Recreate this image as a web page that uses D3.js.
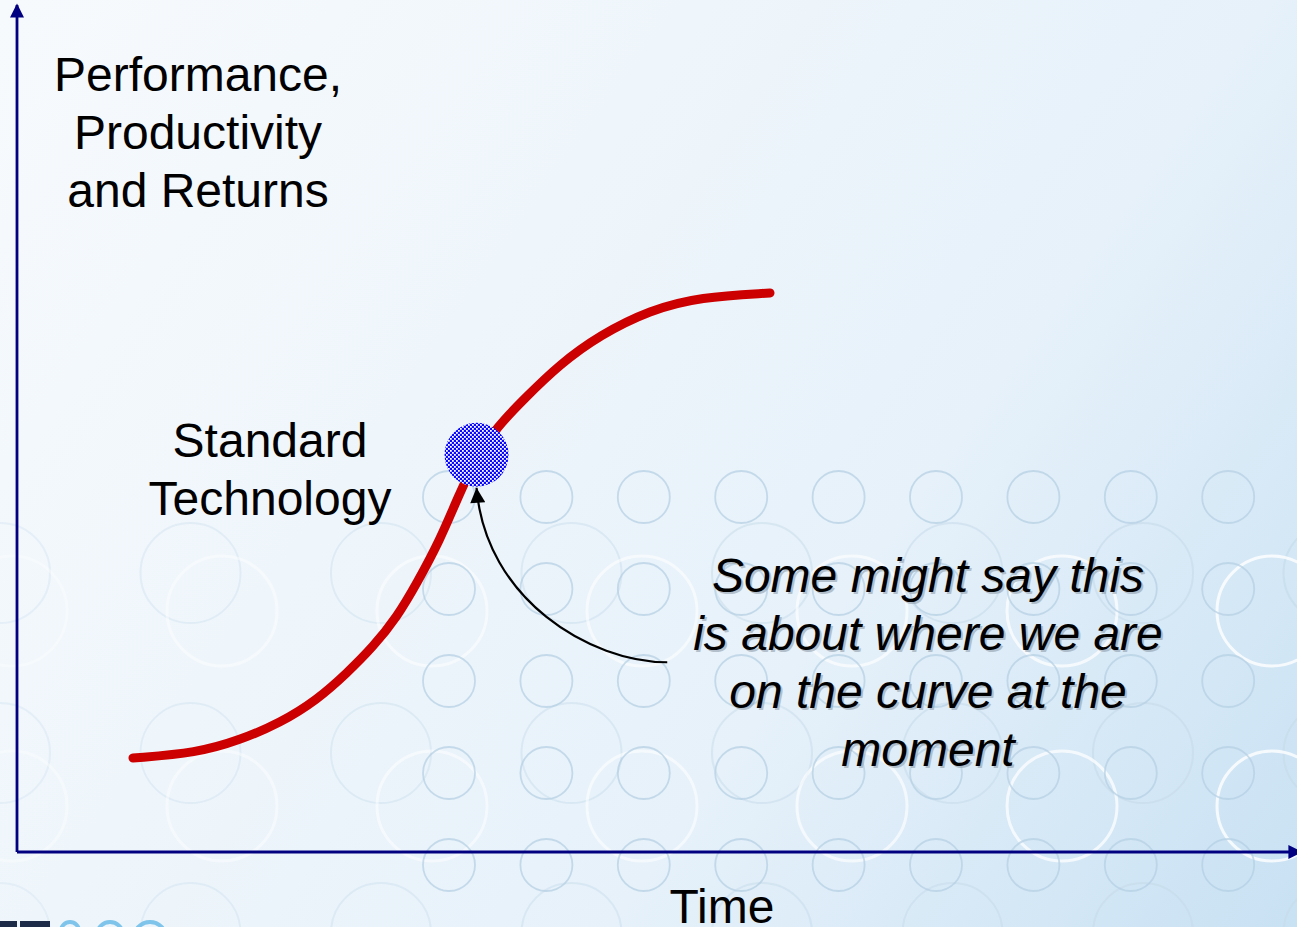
<!DOCTYPE html>
<html>
<head>
<meta charset="utf-8">
<script src="https://cdn.jsdelivr.net/npm/d3@7"></script>
<style>
  html, body { margin: 0; padding: 0; overflow: hidden; background: #f4f8fc; }
  svg { display: block; }
  text { font-family: "Liberation Sans", Arial, sans-serif; }
</style>
</head>
<body>
<script>
// ---------- DATA ----------
// S-curve (time, performance), both on a 0-100 scale
const curveTime = [9.06, 14.06, 17.42, 20.55, 23.44, 25.78, 27.81, 29.69, 31.25, 33.05, 34.45, 35.86, 37.50, 39.53, 42.42, 45.55, 49.45, 53.36, 58.83];
const curvePerf = [11.10, 11.69, 13.22, 15.23, 17.95, 21.13, 24.20, 27.74, 31.76, 36.84, 41.91, 46.52, 50.18, 53.36, 57.62, 61.04, 63.99, 65.53, 66.00];
// current position marker on the curve
const nowPoint = { time: 35.9, perf: 46.9 };
// annotation arrow (start, control 1, control 2) in data units; it ends at the marker
const arrowStart = { time: 50.8, perf: 22.4 };
const arrowCtrl1 = { time: 44.8, perf: 22.4 };
const arrowCtrl2 = { time: 36.6, perf: 29.8 };
// labels
const yAxisLabel = ["Performance,", "Productivity", "and Returns"];
const xAxisLabel = "Time";
const curveLabel = ["Standard", "Technology"];
const noteLines = ["Some might say this", "is about where we are", "on the curve at the", "moment"];

// ---------- SETUP ----------
const W = 1297, H = 927;
const x = d3.scaleLinear().domain([0, 100]).range([17, 1297]);
const y = d3.scaleLinear().domain([0, 100]).range([852, 5]);

const svg = d3.select("body").append("svg").attr("width", W).attr("height", H);
const defs = svg.append("defs");

// background gradient
const grad = defs.append("linearGradient").attr("id", "bg")
  .attr("gradientUnits", "userSpaceOnUse")
  .attr("x1", 0).attr("y1", 0).attr("x2", W).attr("y2", H);
[[0, "#f7fafd"], [0.35, "#eff6fb"], [0.65, "#e6f1fa"], [1, "#c8e1f3"]].forEach(([o, c]) =>
  grad.append("stop").attr("offset", o).attr("stop-color", c));

// checker pattern for the marker
const pat = defs.append("pattern").attr("id", "chk").attr("patternUnits", "userSpaceOnUse")
  .attr("width", 4).attr("height", 4);
pat.append("rect").attr("width", 4).attr("height", 4).attr("fill", "#0808ff");
pat.append("rect").attr("x", 0).attr("y", 0).attr("width", 1.8).attr("height", 1.8).attr("fill", "#ffffff");
pat.append("rect").attr("x", 2).attr("y", 2).attr("width", 1.8).attr("height", 1.8).attr("fill", "#ffffff");

// arrow markers
defs.append("marker").attr("id", "axArrow").attr("viewBox", "0 0 10 10")
  .attr("refX", 9).attr("refY", 5).attr("markerWidth", 16).attr("markerHeight", 14)
  .attr("markerUnits", "userSpaceOnUse").attr("orient", "auto")
  .append("path").attr("d", "M0,0 L10,5 L0,10 Z").attr("fill", "#000080");
defs.append("marker").attr("id", "noteArrow").attr("viewBox", "0 0 10 10")
  .attr("refX", 10).attr("refY", 5).attr("markerWidth", 16).attr("markerHeight", 15)
  .attr("markerUnits", "userSpaceOnUse").attr("orient", "auto")
  .append("path").attr("d", "M0,0 L10,5 L0,10 Z").attr("fill", "#000");

svg.append("rect").attr("width", W).attr("height", H).attr("fill", "url(#bg)");

// ---------- decorative background circles ----------
const deco = svg.append("g");
// large faint circles
d3.range(0, 8).forEach(i => [573, 753, 933].forEach(cy =>
  deco.append("circle").attr("cx", i * 190.5).attr("cy", cy).attr("r", 50)
    .attr("fill", "none").attr("stroke", "#c6dbea").attr("stroke-width", 2)
    .attr("opacity", 0.3 + 0.35 * (i / 7))));
// white circles
d3.range(-1, 6).forEach(i => [611, 806].forEach(cy =>
  deco.append("circle").attr("cx", 222 + i * 210).attr("cy", cy).attr("r", 55)
    .attr("fill", "none").attr("stroke", "#ffffff").attr("stroke-width", 3)
    .attr("opacity", 0.35 + 0.45 * ((i + 1) / 6))));
// small circles
d3.range(0, 9).forEach(i => [497, 589, 681, 773, 865].forEach(cy =>
  deco.append("circle").attr("cx", 449 + i * 97.4).attr("cy", cy).attr("r", 26)
    .attr("fill", "none").attr("stroke", "#b4cfe3").attr("stroke-width", 1.8).attr("opacity", 0.7)));

// logo fragment at bottom-left
const logo = svg.append("g");
logo.append("rect").attr("x", 0).attr("y", 921).attr("width", 17).attr("height", 6).attr("fill", "#1d2a48");
logo.append("rect").attr("x", 20).attr("y", 921).attr("width", 30).attr("height", 6).attr("fill", "#1d2a48");
[[70, 9], [110, 13], [150, 16]].forEach(([cx, r]) =>
  logo.append("circle").attr("cx", cx).attr("cy", 922 + r).attr("r", r)
    .attr("fill", "none").attr("stroke", "#6bbbe8").attr("stroke-width", 4).attr("opacity", 0.85));

// ---------- axes ----------
svg.append("line").attr("x1", x(0)).attr("y1", y(0)).attr("x2", x(0)).attr("y2", y(100))
  .attr("stroke", "#000080").attr("stroke-width", 2.8).attr("marker-end", "url(#axArrow)");
svg.append("line").attr("x1", x(0)).attr("y1", y(0)).attr("x2", x(100) + 4).attr("y2", y(0))
  .attr("stroke", "#000080").attr("stroke-width", 2.8).attr("marker-end", "url(#axArrow)");

// ---------- curve ----------
const pts = curveTime.map((t, i) => [x(t), y(curvePerf[i])]);
svg.append("path")
  .attr("d", d3.line().curve(d3.curveBasis)(pts))
  .attr("fill", "none").attr("stroke", "#cc0000").attr("stroke-width", 9)
  .attr("stroke-linecap", "round").attr("stroke-linejoin", "round");

// ---------- marker ----------
const dotR = 32;
svg.append("circle").attr("cx", x(nowPoint.time)).attr("cy", y(nowPoint.perf)).attr("r", dotR)
  .attr("fill", "url(#chk)");

// ---------- annotation arrow ----------
const ap = d3.path();
ap.moveTo(x(arrowStart.time), y(arrowStart.perf));
ap.bezierCurveTo(x(arrowCtrl1.time), y(arrowCtrl1.perf),
                 x(arrowCtrl2.time), y(arrowCtrl2.perf),
                 x(nowPoint.time), y(nowPoint.perf) + dotR + 1);
svg.append("path").attr("d", ap.toString()).attr("fill", "none")
  .attr("stroke", "#000").attr("stroke-width", 2.2).attr("marker-end", "url(#noteArrow)");

// ---------- text ----------
const fs = 48;
svg.append("g").selectAll("text").data(yAxisLabel).join("text")
  .attr("x", 198).attr("y", (d, i) => 91 + i * 58)
  .attr("text-anchor", "middle").attr("font-size", fs).attr("fill", "#000").text(d => d);

svg.append("g").selectAll("text").data(curveLabel).join("text")
  .attr("x", 270).attr("y", (d, i) => 457 + i * 58)
  .attr("text-anchor", "middle").attr("font-size", fs).attr("fill", "#000").text(d => d);

svg.append("text").attr("x", 722).attr("y", 923).attr("text-anchor", "middle")
  .attr("font-size", fs).attr("fill", "#000").text(xAxisLabel);

const note = svg.append("g");
note.selectAll("text.sh").data(noteLines).join("text").attr("class", "sh")
  .attr("x", 930).attr("y", (d, i) => 594 + i * 58)
  .attr("text-anchor", "middle").attr("font-size", fs).attr("font-style", "italic")
  .attr("fill", "#8a98a6").attr("opacity", 0.55).text(d => d);
note.selectAll("text.fg").data(noteLines).join("text").attr("class", "fg")
  .attr("x", 928).attr("y", (d, i) => 592 + i * 58)
  .attr("text-anchor", "middle").attr("font-size", fs).attr("font-style", "italic")
  .attr("fill", "#000").text(d => d);
</script>
</body>
</html>
